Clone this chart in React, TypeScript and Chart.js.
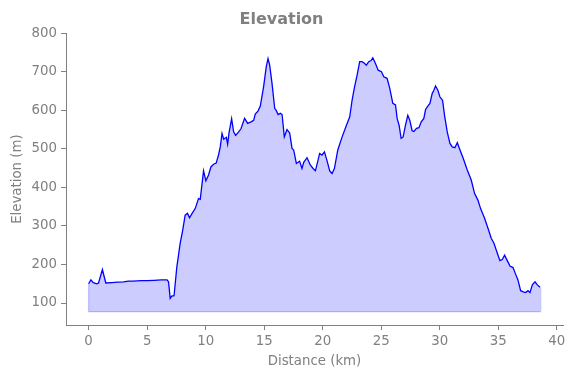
import React, { useEffect, useRef } from "react";
import { Chart, registerables } from "chart.js";

Chart.register(...registerables);

const DISTANCE_KM = [
  0.0, 0.2, 0.4, 0.7, 0.85, 1.18, 1.47, 2.0, 2.5, 3.0, 3.4, 3.8, 4.5, 5.0, 5.6, 6.2, 6.7, 6.83, 6.97, 7.1,
  7.3, 7.54, 7.83, 8.03, 8.25, 8.45, 8.62, 8.83, 9.11, 9.39, 9.54, 9.82, 10.02, 10.25, 10.45, 10.68, 10.9, 11.1, 11.25, 11.4,
  11.54, 11.77, 11.88, 11.99, 12.22, 12.39, 12.56, 12.82, 13.02, 13.33, 13.59, 13.88, 14.1, 14.24, 14.47, 14.67, 14.95, 15.18, 15.33, 15.47,
  15.67, 15.9, 16.04, 16.19, 16.38, 16.53, 16.72, 16.95, 17.18, 17.38, 17.52, 17.75, 18.03, 18.23, 18.38, 18.66, 18.94, 19.18, 19.38, 19.74,
  19.94, 20.15, 20.38, 20.6, 20.8, 21.0, 21.29, 21.66, 22.03, 22.31, 22.51, 22.71, 22.94, 23.16, 23.36, 23.56, 23.73, 23.93, 24.13, 24.28,
  24.5, 24.74, 25.02, 25.22, 25.5, 25.73, 25.99, 26.22, 26.36, 26.53, 26.7, 26.87, 27.07, 27.27, 27.44, 27.64, 27.79, 28.02, 28.22, 28.42,
  28.64, 28.79, 28.98, 29.16, 29.36, 29.5, 29.64, 29.84, 30.01, 30.24, 30.41, 30.64, 30.87, 31.07, 31.29, 31.5, 31.73, 32.01, 32.35, 32.69,
  32.98, 33.26, 33.49, 33.83, 34.12, 34.4, 34.63, 34.92, 35.14, 35.34, 35.54, 35.77, 36.0, 36.26, 36.48, 36.68, 36.91, 37.14, 37.34, 37.54,
  37.71, 37.91, 38.14, 38.34, 38.57,
];

const ELEVATION_M = [
  150, 160, 153, 150, 152, 187, 152, 153, 154, 155, 157, 157, 158, 158, 159, 160, 160, 155, 112, 118,
  119, 194, 256, 287, 328, 333, 321, 332, 345, 371, 369, 443, 417, 432, 453, 460, 463, 484, 505, 540,
  525, 530, 512, 540, 578, 544, 535, 544, 552, 579, 566, 570, 574, 590, 598, 611, 661, 713, 734, 717,
  670, 605, 599, 589, 592, 589, 531, 550, 541, 501, 497, 462, 468, 449, 465, 477, 458, 449, 443, 488,
  484, 492, 468, 443, 436, 449, 497, 531, 561, 583, 626, 659, 691, 726, 726, 722, 717, 726, 729, 736,
  722, 704, 700, 687, 683, 657, 618, 614, 579, 561, 527, 531, 561, 587, 574, 547, 545, 553, 555, 570,
  579, 602, 611, 618, 644, 652, 663, 652, 635, 626, 587, 544, 514, 505, 503, 516, 497, 475, 445, 419,
  384, 367, 345, 320, 294, 268, 255, 229, 210, 213, 224, 210, 196, 192, 175, 160, 132, 129, 127, 132,
  127, 147, 155, 147, 141,
];

const FILL_BASE = 77.5;
const X_TICKS = [0, 5, 10, 15, 20, 25, 30, 35, 40];
const Y_TICKS = [100, 200, 300, 400, 500, 600, 700, 800];
const X_RANGE = [-1.93, 40.53];
const Y_RANGE = [43, 800];

const FONT = "'DejaVu Sans', sans-serif";
const GRAY = "#808080";

export default function App() {
  const ref = useRef<HTMLCanvasElement | null>(null);

  useEffect(() => {
    const canvas = ref.current;
    if (!canvas) return;
    const profile = DISTANCE_KM.map((x, i) => ({ x, y: ELEVATION_M[i] }));
    const n = DISTANCE_KM.length;
    const outline = [
      { x: DISTANCE_KM[0], y: ELEVATION_M[0] },
      { x: DISTANCE_KM[0], y: FILL_BASE },
      { x: DISTANCE_KM[n - 1] + 0.05, y: FILL_BASE },
      { x: DISTANCE_KM[n - 1] + 0.05, y: ELEVATION_M[n - 1] },
    ];
    const chart = new Chart(canvas, {
      type: "line",
      data: {
        datasets: [
          {
            data: profile,
            borderColor: "#0000ff",
            borderWidth: 1.3,
            pointRadius: 0,
            tension: 0,
            fill: { value: FILL_BASE },
            backgroundColor: "rgba(0,0,255,0.2)",
          },
          {
            data: outline,
            borderColor: "rgba(0,0,255,0.22)",
            borderWidth: 1.3,
            pointRadius: 0,
            fill: false,
          },
        ],
      },
      options: {
        animation: false,
        responsive: false,
        events: [],
        layout: { padding: { left: 0, right: 11, top: 0, bottom: 0 } },
        plugins: {
          legend: { display: false },
          tooltip: { enabled: false },
          title: {
            display: true,
            text: "Elevation",
            color: GRAY,
            font: { family: FONT, size: 16, weight: "bold" },
            padding: { top: 10, bottom: 4 },
          },
        },
        scales: {
          x: {
            type: "linear",
            min: X_RANGE[0],
            max: X_RANGE[1],
            afterFit: (s: any) => {
              s.height = 53;
            },
            afterBuildTicks: (s: any) => {
              s.ticks = X_TICKS.map((v) => ({ value: v }));
            },
            grid: { display: true, drawOnChartArea: false, drawTicks: true, tickLength: 5, color: GRAY, lineWidth: 1 },
            border: { display: true, color: GRAY, width: 1 },
            ticks: { color: GRAY, font: { family: FONT, size: 13.33 }, padding: 4, maxRotation: 0 },
            title: {
              display: true,
              text: "Distance (km)",
              color: GRAY,
              font: { family: FONT, size: 13.33 },
              padding: { top: 0, bottom: 8.5 },
            },
          },
          y: {
            type: "linear",
            min: Y_RANGE[0],
            max: Y_RANGE[1],
            afterFit: (s: any) => {
              s.width = 66;
            },
            afterBuildTicks: (s: any) => {
              s.ticks = Y_TICKS.map((v) => ({ value: v }));
            },
            grid: { display: true, drawOnChartArea: false, drawTicks: true, tickLength: 5, color: GRAY, lineWidth: 1 },
            border: { display: true, color: GRAY, width: 1 },
            ticks: { color: GRAY, font: { family: FONT, size: 13.33 }, padding: 4 },
            title: {
              display: true,
              text: "Elevation (m)",
              color: GRAY,
              font: { family: FONT, size: 13.33 },
              padding: { top: 9.5, bottom: 0 },
            },
          },
        },
      },
    } as any);
    return () => chart.destroy();
  }, []);

  return (
    <div style={{ position: "fixed", left: 0, top: 0, width: 574, height: 378, background: "#fff" }}>
      <canvas ref={ref} width={574} height={378} style={{ display: "block" }} />
    </div>
  );
}
